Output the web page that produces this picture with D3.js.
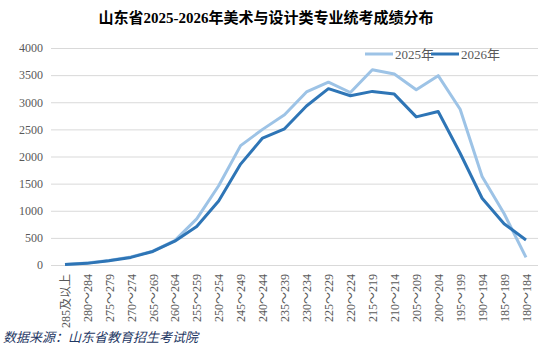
<!DOCTYPE html>
<html>
<head>
<meta charset="utf-8">
<script src="https://cdn.jsdelivr.net/npm/d3@7"></script>
<style>
  body { margin: 0; background: #fff; }
  svg { display: block; }
  text { font-family: "Liberation Serif", "Times New Roman", "Noto Sans CJK SC", serif; }
</style>
</head>
<body>
<svg id="chart" width="549" height="354"></svg>
<script>
const categories = ["285及以上", "280～284", "275～279", "270～274", "265～269", "260～264",
  "255～259", "250～254", "245～249", "240～244", "235～239", "230～234", "225～229",
  "220～224", "215～219", "210～214", "205～209", "200～204", "195～199", "190～194",
  "185～189", "180～184"];
const values2025 = [10, 35, 85, 150, 255, 450, 850, 1460, 2200, 2500, 2770, 3190, 3370,
  3180, 3600, 3520, 3230, 3490, 2870, 1630, 950, 140];
const values2026 = [10, 30, 80, 140, 250, 440, 710, 1180, 1860, 2340, 2510, 2930, 3250,
  3120, 3200, 3150, 2730, 2830, 2060, 1230, 760, 460];
const yTicks = [0, 500, 1000, 1500, 2000, 2500, 3000, 3500, 4000];

const ctx = {
  w: 549, h: 354,
  left: 54, right: 537, top: 48, bottom: 265,
  C2025: "#9dc3e6", C2026: "#2e75b6",
  font: "Liberation Serif, Times New Roman, Noto Sans CJK SC, serif"
};

var svg = d3.select("#chart");

var xScale = d3.scalePoint()
               .domain(categories)
               .range([ctx.left + 11, ctx.right - 11]);

var yScale = d3.scaleLinear()
               .domain([0, 4000])
               .range([ctx.bottom, ctx.top]);

// grid + y labels
var yAxis = d3.axisLeft(yScale)
              .tickValues(yTicks)
              .tickFormat(d3.format("d"))
              .tickSize(-(ctx.right - ctx.left + 4))
              .tickPadding(8);

svg.append("g")
   .attr("transform", "translate(" + (ctx.left - 3) + ",0)")
   .call(yAxis)
   .attr("font-family", ctx.font)
   .attr("font-size", 12)
   .call(g => g.select(".domain").remove())
   .call(g => g.selectAll(".tick line").attr("stroke", "#d9d9d9").attr("stroke-width", 1))
   .call(g => g.selectAll(".tick text").attr("fill", "#595959"));

// x labels (rotated)
var xAxis = d3.axisBottom(xScale).tickSize(0).tickPadding(0);
svg.append("g")
   .attr("transform", "translate(0," + ctx.bottom + ")")
   .call(xAxis)
   .attr("font-family", ctx.font)
   .attr("font-size", 12)
   .call(g => g.select(".domain").remove())
   .call(g => g.selectAll(".tick text")
      .attr("transform", "rotate(-90)")
      .attr("x", -9)
      .attr("y", 0)
      .attr("dy", "0.35em")
      .style("text-anchor", "end")
      .attr("fill", "#595959"));

// lines
const linegen = d3.line()
                  .x((d, i) => xScale(categories[i]))
                  .y(d => yScale(d));

const series = [
  {name: "2025年", data: values2025, color: ctx.C2025},
  {name: "2026年", data: values2026, color: ctx.C2026}
];

series.forEach(s => {
  svg.append("path")
     .datum(s.data)
     .attr("fill", "none")
     .attr("stroke", s.color)
     .attr("stroke-width", 3)
     .attr("stroke-linejoin", "round")
     .attr("d", linegen);
});

// legend
var legend = svg.append("g").attr("transform", "translate(365,54)");
var lx = 0;
series.forEach(s => {
  legend.append("line")
        .attr("x1", lx).attr("x2", lx + 28)
        .attr("y1", 0).attr("y2", 0)
        .attr("stroke", s.color)
        .attr("stroke-width", 3);
  legend.append("text")
        .attr("x", lx + 30)
        .attr("y", 0)
        .attr("dy", "0.35em")
        .attr("fill", "#595959")
        .attr("font-size", 13)
        .text(s.name);
  lx += 66;
});

// title
svg.append("text")
   .attr("x", 266)
   .attr("y", 23)
   .style("text-anchor", "middle")
   .attr("font-size", 15)
   .attr("font-weight", "bold")
   .attr("fill", "#000")
   .text("山东省2025-2026年美术与设计类专业统考成绩分布");

// source
svg.append("text")
   .attr("x", 3)
   .attr("y", 342)
   .attr("font-size", 13)
   .attr("font-style", "italic")
   .attr("fill", "#1f3864")
   .text("数据来源：山东省教育招生考试院");
</script>
</body>
</html>
